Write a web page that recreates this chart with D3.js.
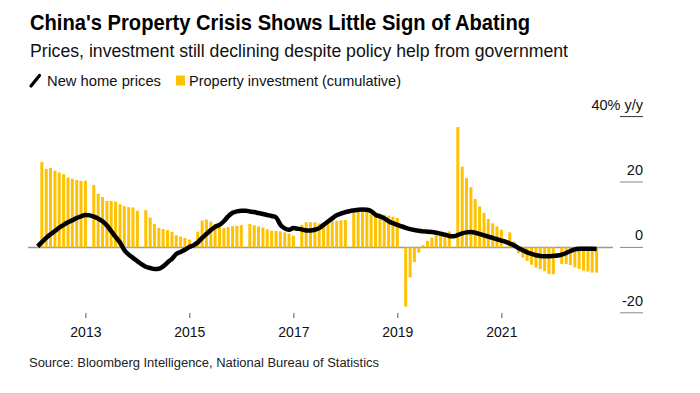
<!DOCTYPE html>
<html><head><meta charset="utf-8">
<script src="https://cdn.jsdelivr.net/npm/d3@7"></script>
<style>
body{margin:0;background:#fff}
svg{display:block}
text{font-family:"Liberation Sans",Arial,Helvetica,sans-serif}
</style>
</head><body>
<svg id="c" width="700" height="393"></svg>
<script>
const title = "China's Property Crisis Shows Little Sign of Abating";
const subtitle = "Prices, investment still declining despite policy help from government";
const legendLabels = ["New home prices", "Property investment (cumulative)"];
const sourceText = "Source: Bloomberg Intelligence, National Bureau of Statistics";

const years = [2012, 2013, 2014, 2015, 2016, 2017, 2018, 2019, 2020, 2021, 2022];

// Property investment, cumulative y/y (Feb..Dec of each year; no January reading)
const investment = [
  [26.1, 24.0, 24.3, 23.5, 22.9, 22.4, 21.4, 21.0, 20.6, 20.3, 20.4],
  [19.1, 16.4, 15.4, 14.2, 14.2, 14.0, 13.2, 12.6, 12.3, 12.2, 11.2],
  [11.4, 9.1, 7.2, 6.0, 5.6, 5.3, 4.7, 3.7, 3.3, 2.9, 2.4],
  [4.8, 8.2, 8.5, 7.9, 7.2, 6.2, 5.9, 6.2, 6.5, 6.6, 6.8],
  [7.2, 6.8, 6.4, 6.1, 5.5, 5.1, 5.0, 4.9, 4.6, 4.2, 3.6],
  [6.9, 7.7, 7.7, 7.7, 7.3, 6.8, 7.5, 8.1, 8.1, 8.3, 8.4],
  [10.5, 11.0, 11.0, 10.9, 10.5, 10.3, 10.2, 10.0, 9.7, 9.4, 9.0],
  [-18.1, -9.2, -4.5, -1.6, 0.7, 2.0, 3.0, 3.7, 4.2, 4.5, 4.9],
  [36.8, 24.7, 21.2, 18.4, 14.8, 12.5, 10.5, 8.7, 7.4, 6.4, 5.4],
  [4.6, 1.8, -1.8, -3.1, -4.1, -5.3, -6.2, -6.6, -7.3, -8.1, -8.2],
  [-5.1, -5.1, -5.4, -6.1, -6.6, -7.1, -7.4, -7.7, -7.7]
];

// New home prices y/y (Jan..Dec of each year)
const homePrices = [
  [0.3, 1.6, 2.9, 4.0, 5.0, 6.0, 6.9, 7.7, 8.3, 9.0, 9.5, 9.9],
  [9.8, 9.4, 8.8, 8.0, 6.7, 5.0, 3.2, 1.5, -0.8, -2.2, -3.2, -4.2],
  [-5.2, -5.9, -6.3, -6.6, -6.5, -5.8, -4.6, -3.5, -2.0, -1.4, -0.7, 0.1],
  [0.7, 1.5, 2.9, 4.1, 5.3, 6.3, 6.9, 8.0, 9.5, 10.6, 11.0, 11.2],
  [11.2, 11.0, 10.8, 10.5, 10.2, 9.9, 9.6, 9.2, 7.0, 5.8, 5.4, 5.9],
  [5.7, 5.5, 5.2, 5.2, 5.4, 5.9, 6.9, 7.9, 8.9, 9.8, 10.3, 10.8],
  [11.1, 11.3, 11.5, 11.6, 11.5, 11.1, 10.0, 9.5, 8.9, 8.0, 7.4, 6.9],
  [6.4, 6.0, 5.6, 5.3, 5.1, 4.9, 4.8, 4.7, 4.5, 4.2, 3.9, 3.5],
  [3.4, 3.8, 4.3, 4.6, 4.7, 4.5, 4.1, 3.7, 3.3, 2.9, 2.5, 2.1],
  [1.7, 1.2, 0.6, -0.2, -0.9, -1.5, -2.0, -2.4, -2.6, -2.7, -2.7, -2.6],
  [-2.5, -2.2, -1.7, -1.1, -0.6, -0.4, -0.4, -0.4, -0.4, -0.5]
];

const yTicks = [40, 20, 0, -20];
const yTickLabels = ["40% y/y", "20", "0", "-20"];
const xTickYears = [2013, 2015, 2017, 2019, 2021];

const BAR = "#ffc200";

// flatten series (each reading dated at the end of its month)
const bars = [];
years.forEach((yr, i) => investment[i].forEach((v, j) => bars.push({date: new Date(yr, j + 2, 1), v})));
const line = [];
years.forEach((yr, i) => homePrices[i].forEach((v, m) => line.push({date: new Date(yr, m + 1, 1), v})));

const svg = d3.select("#c");
const x = d3.scaleTime().domain([new Date(2012, 0, 1), new Date(2023, 0, 1)]).range([33.3, 605.3]);
const y = d3.scaleLinear().domain([-20, 40]).range([312.8, 116.6]);

// titles
svg.append("text").attr("x", 30).attr("y", 29.5).attr("font-size", 22).attr("font-weight", "bold")
  .attr("fill", "#000").attr("textLength", 500).attr("lengthAdjust", "spacingAndGlyphs").text(title);
svg.append("text").attr("x", 30).attr("y", 57).attr("font-size", 17.5)
  .attr("fill", "#111").attr("textLength", 538).attr("lengthAdjust", "spacingAndGlyphs").text(subtitle);

// legend
svg.append("line").attr("x1", 31).attr("y1", 86).attr("x2", 39.5).attr("y2", 75.5)
  .attr("stroke", "#000").attr("stroke-width", 3.2).attr("stroke-linecap", "round");
svg.append("text").attr("x", 47).attr("y", 85.5).attr("font-size", 14.5).attr("fill", "#111")
  .attr("textLength", 114).attr("lengthAdjust", "spacingAndGlyphs").text(legendLabels[0]);
svg.append("rect").attr("x", 176).attr("y", 75.5).attr("width", 9).attr("height", 10).attr("fill", BAR);
svg.append("text").attr("x", 189).attr("y", 85.5).attr("font-size", 14.5).attr("fill", "#111")
  .attr("textLength", 212).attr("lengthAdjust", "spacingAndGlyphs").text(legendLabels[1]);

// right axis: short rules with labels above
const ya = svg.append("g");
yTicks.forEach((t, i) => {
  ya.append("line").attr("x1", 620).attr("x2", 643).attr("y1", y(t)).attr("y2", y(t))
    .attr("stroke", i === 0 ? "#333" : "#888").attr("stroke-width", 1);
  ya.append("text").attr("x", 643).attr("y", y(t) - 7).attr("text-anchor", "end")
    .attr("font-size", 14.5).attr("fill", "#111").text(yTickLabels[i]);
});

// zero line
svg.append("line").attr("x1", 28).attr("x2", 613).attr("y1", y(0)).attr("y2", y(0))
  .attr("stroke", "#999").attr("stroke-width", 1.5);

// bars
svg.append("g").selectAll("rect").data(bars).join("rect")
  .attr("x", d => x(d.date) - 1.5).attr("width", 3)
  .attr("y", d => y(Math.max(0, d.v)))
  .attr("height", d => Math.abs(y(d.v) - y(0)))
  .attr("fill", BAR);

// line
svg.append("path").datum(line)
  .attr("d", d3.line().x(d => x(d.date)).y(d => y(d.v)).curve(d3.curveMonotoneX))
  .attr("fill", "none").attr("stroke", "#000").attr("stroke-width", 4.5)
  .attr("stroke-linejoin", "round").attr("stroke-linecap", "butt");

// x axis
const xa = svg.append("g").attr("transform", "translate(0,313)")
  .call(d3.axisBottom(x).tickValues(xTickYears.map(yv => new Date(yv, 0, 1)))
    .tickSize(5).tickPadding(9).tickFormat(d3.timeFormat("%Y")));
xa.select(".domain").remove();
xa.selectAll(".tick line").attr("stroke", "#555");
xa.selectAll(".tick text").attr("font-size", 14).attr("fill", "#111")
  .attr("font-family", "'Liberation Sans',Arial,sans-serif");

// source
svg.append("text").attr("x", 29).attr("y", 366.5).attr("font-size", 12.5).attr("fill", "#222")
  .attr("textLength", 350).attr("lengthAdjust", "spacingAndGlyphs").text(sourceText);
</script>
</body></html>
